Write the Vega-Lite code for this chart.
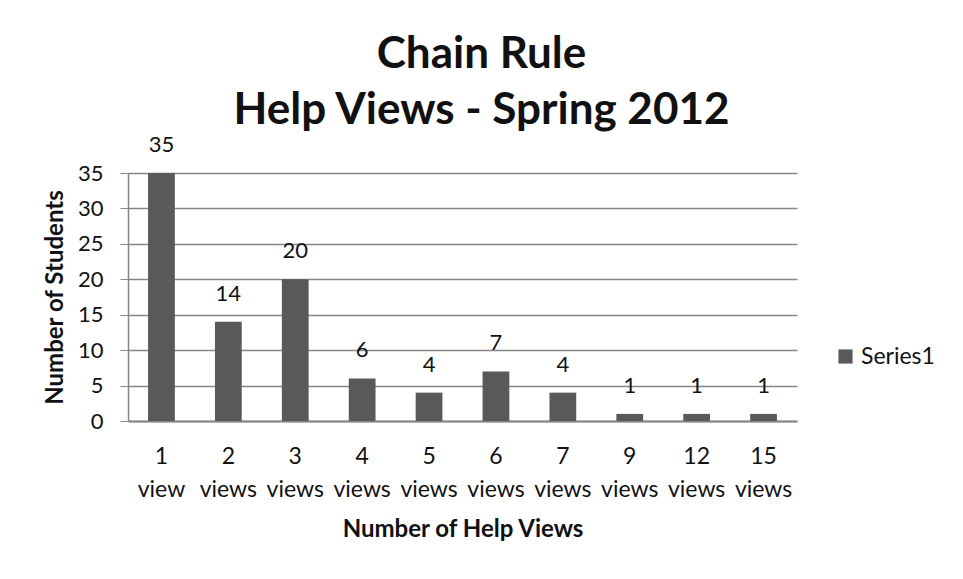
{
  "$schema": "https://vega.github.io/schema/vega-lite/v6.json",
  "autosize": {"type": "none"},
  "width": 669,
  "height": 248,
  "padding": {"left": 128, "top": 173, "right": 166, "bottom": 158},
  "background": "white",
  "config": {"view": {"stroke": null}, "font": "Lato"},
  "title": {
    "text": ["Chain Rule", "Help Views - Spring 2012"],
    "fontSize": 44,
    "fontWeight": "bold",
    "font": "Lato",
    "color": "#111111",
    "lineHeight": 56,
    "anchor": "middle",
    "dx": 19,
    "offset": -34,
    "baseline": "alphabetic"
  },
  "data": {
    "values": [
      {"views": "1 view", "students": 35, "series": "Series1"},
      {"views": "2 views", "students": 14, "series": "Series1"},
      {"views": "3 views", "students": 20, "series": "Series1"},
      {"views": "4 views", "students": 6, "series": "Series1"},
      {"views": "5 views", "students": 4, "series": "Series1"},
      {"views": "6 views", "students": 7, "series": "Series1"},
      {"views": "7 views", "students": 4, "series": "Series1"},
      {"views": "9 views", "students": 1, "series": "Series1"},
      {"views": "12 views", "students": 1, "series": "Series1"},
      {"views": "15 views", "students": 1, "series": "Series1"}
    ]
  },
  "encoding": {
    "x": {
      "field": "views",
      "type": "nominal",
      "sort": null,
      "scale": {"paddingInner": 0.6, "paddingOuter": 0.3},
      "axis": {
        "title": "Number of Help Views",
        "titleFontSize": 24,
        "titleFontWeight": "bold",
        "titleColor": "#111111",
        "titlePadding": 16,
        "labelExpr": "split(datum.value, ' ')",
        "labelAngle": 0,
        "labelFontSize": 23,
        "labelColor": "#111111",
        "labelLineHeight": 33,
        "labelPadding": 35,
        "labelBaseline": "middle",
        "ticks": false,
        "domainColor": "#868686",
        "domainWidth": 2,
        "grid": false
      }
    },
    "y": {
      "field": "students",
      "type": "quantitative",
      "scale": {"domain": [0, 35]},
      "axis": {
        "title": "Number of Students",
        "titleFontSize": 24,
        "titleFontWeight": "bold",
        "titleColor": "#111111",
        "titlePadding": 10,
        "values": [0, 5, 10, 15, 20, 25, 30, 35],
        "labelFontSize": 22,
        "labelColor": "#111111",
        "labelPadding": 17,
        "tickSize": 8,
        "tickColor": "#868686",
        "domainColor": "#868686",
        "domainWidth": 1.5,
        "gridColor": "#868686",
        "gridWidth": 1.5
      }
    }
  },
  "layer": [
    {
      "mark": {"type": "bar"},
      "encoding": {
        "color": {
          "field": "series",
          "type": "nominal",
          "scale": {"range": ["#595959"]},
          "legend": {
            "title": null,
            "orient": "none",
            "legendX": 706,
            "legendY": 172,
            "symbolType": "square",
            "symbolSize": 200,
            "symbolStrokeWidth": 0,
            "labelFontSize": 23,
            "labelColor": "#111111",
            "labelOffset": 4
          }
        }
      }
    },
    {
      "mark": {"type": "text", "baseline": "alphabetic", "dy": -21, "fontSize": 22, "color": "#111111"},
      "encoding": {"text": {"field": "students", "type": "quantitative"}}
    }
  ]
}
